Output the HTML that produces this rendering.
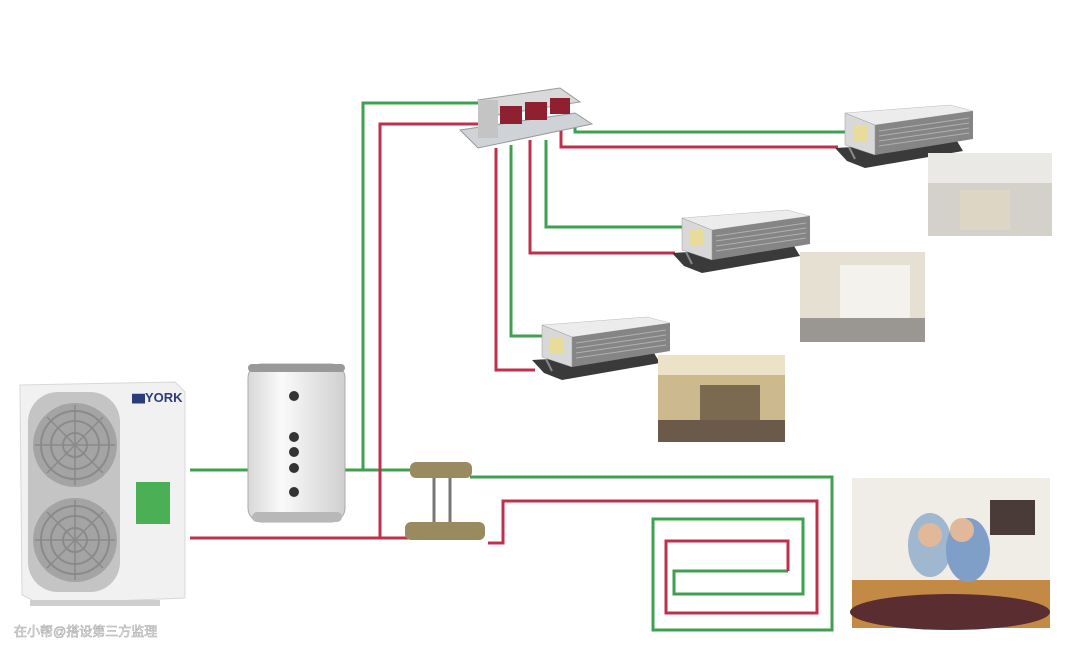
<!DOCTYPE html>
<html><head><meta charset="utf-8"><style>
html,body{margin:0;padding:0;background:#fff;}
body{width:1070px;height:654px;overflow:hidden;font-family:"Liberation Sans","Noto Sans CJK SC",sans-serif;}
</style></head><body>
<svg width="1070" height="654" viewBox="0 0 1070 654" xmlns="http://www.w3.org/2000/svg">
<defs>
<g id="fc">
 <polygon points="0,45 12,58 30,65 128,48 122,38" fill="#3a3a3a"/>
 <polygon points="10,10 115,2 138,8 40,22" fill="#ececec" stroke="#bbb" stroke-width="0.5"/>
 <polygon points="40,22 138,8 138,36 40,52" fill="#858585"/>
 <g stroke="#b0b0b0" stroke-width="1">
  <line x1="44" y1="28" x2="134" y2="15"/><line x1="44" y1="33" x2="134" y2="20"/>
  <line x1="44" y1="38" x2="134" y2="25"/><line x1="44" y1="43" x2="134" y2="30"/>
 </g>
 <polygon points="10,10 40,22 40,52 10,42" fill="#d8d8d8" stroke="#999" stroke-width="0.5"/>
 <rect x="18" y="22" width="14" height="16" fill="#e8dc9a"/>
 <line x1="14" y1="44" x2="20" y2="56" stroke="#888" stroke-width="2"/>
</g>
<g id="fan">
 <circle r="42" fill="#a4a4a4"/>
 <circle r="34" fill="none" stroke="#8a8a8a" stroke-width="2"/>
 <circle r="24" fill="none" stroke="#8a8a8a" stroke-width="2"/>
 <circle r="12" fill="none" stroke="#8a8a8a" stroke-width="2"/>
 <path d="M-40,0H40M0,-40V40M-28,-28L28,28M-28,28L28,-28" stroke="#8a8a8a" stroke-width="1.5"/>
</g>
<linearGradient id="tank" x1="0" x2="1"><stop offset="0" stop-color="#d8d8d8"/><stop offset="0.35" stop-color="#fafafa"/><stop offset="1" stop-color="#cfcfcf"/></linearGradient>
</defs>

<g fill="none" stroke-width="3" stroke-linejoin="miter">
 <g stroke="#3fa052">
  <polyline points="190,470 250,470"/>
  <polyline points="345,470 412,470"/>
  <polyline points="363,470 363,103 480,103"/>
  <polyline points="575,126 575,132 845,132"/>
  <polyline points="546,140 546,227 685,227"/>
  <polyline points="511,145 511,336 545,336"/>
  <polyline points="470,477 832,477 832,630 653,630 653,519 803,519 803,594 674,594 674,571 788,571"/>
 </g>
 <g stroke="#c0304a">
  <polyline points="190,538 408,538"/>
  <polyline points="380,538 380,124 480,124"/>
  <polyline points="561,128 561,147 838,147"/>
  <polyline points="530,140 530,253 675,253"/>
  <polyline points="496,148 496,370 535,370"/>
  <polyline points="488,543 503,543 503,501 817,501 817,613 666,613 666,541 788,541 788,571"/>
 </g>
</g>

<polygon points="460,130 575,113 592,124 478,148" fill="#cfd3d8" stroke="#999"/>
<polygon points="478,100 560,88 580,102 498,115" fill="#d9d9d9" stroke="#999"/>
<rect x="478" y="100" width="20" height="38" fill="#c4c4c4"/>
<g fill="#8f2030">
 <rect x="500" y="106" width="22" height="18"/><rect x="525" y="102" width="22" height="18"/><rect x="550" y="98" width="20" height="16"/>
</g>

<use href="#fc" transform="translate(835,103)"/>
<use href="#fc" transform="translate(672,208)"/>
<use href="#fc" transform="translate(532,315)"/>

<rect x="928" y="153" width="124" height="83" fill="#d4d0ca"/>
<rect x="928" y="153" width="124" height="30" fill="#ebe9e5"/>
<rect x="960" y="190" width="50" height="40" fill="#ddd6c4"/>
<rect x="800" y="252" width="125" height="90" fill="#e6e0d3"/>
<rect x="840" y="265" width="70" height="55" fill="#f4f2ec"/>
<rect x="800" y="318" width="125" height="24" fill="#9a9792"/>
<rect x="658" y="355" width="127" height="87" fill="#ccb98e"/>
<rect x="658" y="355" width="127" height="20" fill="#ece2c8"/>
<rect x="700" y="385" width="60" height="40" fill="#7b6a50"/>
<rect x="658" y="420" width="127" height="22" fill="#6b5a4a"/>

<rect x="852" y="478" width="198" height="150" fill="#f0ece6"/>
<rect x="852" y="580" width="198" height="48" fill="#c38a45"/>
<ellipse cx="950" cy="612" rx="100" ry="18" fill="#5a2e30"/>
<ellipse cx="930" cy="545" rx="22" ry="32" fill="#9fb7cf"/>
<ellipse cx="968" cy="550" rx="22" ry="32" fill="#7f9fc8"/>
<circle cx="930" cy="535" r="12" fill="#e2b89a"/><circle cx="962" cy="530" r="12" fill="#e2b89a"/>
<rect x="990" y="500" width="45" height="35" fill="#4a3a38"/>

<polygon points="20,385 175,382 185,392 185,598 40,604 22,595" fill="#f1f1f1" stroke="#d8d8d8"/>
<rect x="28" y="392" width="92" height="200" rx="30" fill="#c4c4c4"/>
<use href="#fan" transform="translate(75,445)"/>
<use href="#fan" transform="translate(75,540)"/>
<rect x="136" y="482" width="34" height="42" fill="#4bb055"/>
<rect x="30" y="600" width="130" height="6" fill="#cfcfcf"/>
<text x="132" y="402" font-size="13" font-weight="bold" fill="#2a3d7a">▆YORK</text>
<text x="14" y="636" font-size="13" fill="#fff" stroke="#aaa" stroke-width="0.6">在小帮@搭设第三方监理</text>

<rect x="248" y="364" width="97" height="158" rx="14" fill="url(#tank)" stroke="#aaa"/>
<rect x="248" y="364" width="97" height="8" rx="4" fill="#999"/>
<rect x="252" y="512" width="90" height="10" rx="5" fill="#b8b8b8"/>
<g fill="#333"><circle cx="294" cy="396" r="5"/><circle cx="294" cy="437" r="5"/><circle cx="294" cy="452" r="5"/><circle cx="294" cy="468" r="5"/><circle cx="294" cy="492" r="5"/></g>

<rect x="410" y="462" width="62" height="16" rx="6" fill="#9a8a60"/>
<rect x="405" y="522" width="80" height="18" rx="6" fill="#9a8a60"/>
<line x1="434" y1="478" x2="434" y2="522" stroke="#777" stroke-width="3"/>
<line x1="450" y1="478" x2="450" y2="522" stroke="#777" stroke-width="3"/>
</svg>
</body></html>
